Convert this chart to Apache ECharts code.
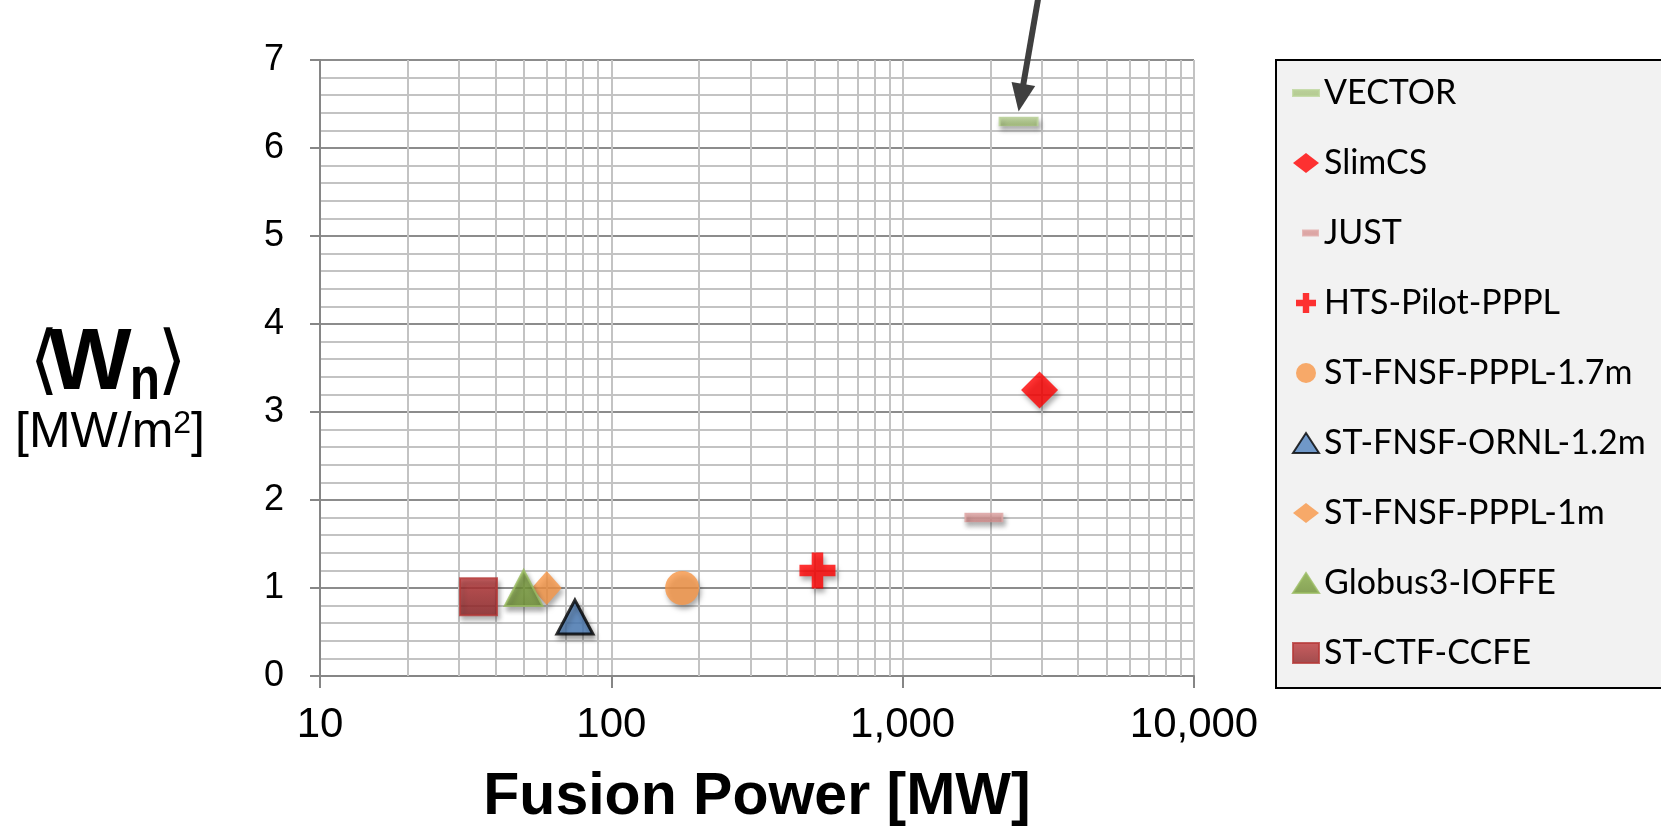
<!DOCTYPE html>
<html><head><meta charset="utf-8">
<script src="https://cdn.jsdelivr.net/npm/echarts@6/dist/echarts.min.js"></script>
<style>html,body{margin:0;padding:0;background:#fff}#c{width:1661px;height:832px}</style>
</head><body><div id="c"></div>
<script>
// ---- data ----
const seriesNames = ['VECTOR','SlimCS','JUST','HTS-Pilot-PPPL','ST-FNSF-PPPL-1.7m','ST-FNSF-ORNL-1.2m','ST-FNSF-PPPL-1m','Globus3-IOFFE','ST-CTF-CCFE'];
const fusionPower = [2500, 2950, 1900, 510, 175, 75, 60, 50, 35];
const wallLoad    = [6.3, 3.25, 1.8, 1.2, 1.0, 0.67, 1.0, 1.0, 0.9];
const xTickValues = [10, 100, 1000, 10000];
const xTickLabels = ['10', '100', '1,000', '10,000'];
const xMinorGrid  = [20,30,40,50,60,70,80,90,200,300,400,500,600,700,800,900,2000,3000,4000,5000,6000,7000,8000,9000];
const yTickLabels = ['0','1','2','3','4','5','6','7'];

// ---- styles ----
const crossPath = 'path://M34 0H66V34H100V66H66V100H34V66H0V34H34Z';
const shadow = {shadowBlur: 5, shadowOffsetX: 2, shadowOffsetY: 4, shadowColor: 'rgba(0,0,0,0.4)'};
const grad = (a, b) => new echarts.graphic.LinearGradient(0, 0, 0, 1, [{offset: 0, color: a}, {offset: 1, color: b}]);
const styles = [
  {symbol: 'rect', size: [38, 9], item: {color: grad('#b4cd8f', '#9dbb6e'), borderColor: '#bcd49a', borderWidth: 1}},
  {symbol: 'diamond', size: [37, 37], item: {color: '#ff0000'}},
  {symbol: 'rect', size: [37, 9], item: {color: grad('#dea2a1', '#cf8584'), borderColor: '#e0a9a8', borderWidth: 1}},
  {symbol: crossPath, size: [36, 36], item: {color: '#ff0000'}},
  {symbol: 'circle', size: [34, 34], item: {color: '#f79646'}},
  {symbol: 'triangle', size: [36, 34], item: {color: '#4f81bd', borderColor: '#000', borderWidth: 3}},
  {symbol: 'diamond', size: [30, 34], item: {color: '#f79646'}},
  {symbol: 'triangle', size: [38, 36], item: {color: grad('#85aa44', '#6c8f30'), borderColor: '#9abc62', borderWidth: 2}},
  {symbol: 'rect', size: [37, 37], item: {color: grad('#c0393b', '#8c2224'), borderColor: '#b53a38', borderWidth: 2}}
];
const legendIcons = [
  'path://M0 0M26 20M0 7L26 7L26 13L0 13Z',
  'diamond',
  'path://M0 0M26 20M10 7.5L25 7.5L25 12.5L10 12.5Z',
  crossPath,
  'circle',
  'triangle',
  'diamond',
  'triangle',
  'rect'
];

const chart = echarts.init(document.getElementById('c'), null, {renderer: 'canvas'});

const series = [{
  type: 'scatter', name: '__grid', data: [], z: 1, silent: true,
  markLine: {
    z: 1, silent: true, animation: false, symbol: ['none', 'none'],
    label: {show: false},
    lineStyle: {color: '#c3c3c3', width: 2, type: 'solid'},
    emphasis: {disabled: true},
    data: xMinorGrid.map(v => ({xAxis: v}))
  }
}];
seriesNames.forEach((n, i) => {
  series.push({
    type: 'scatter', name: n, z: 3 + i,
    symbol: styles[i].symbol, symbolSize: styles[i].size,
    itemStyle: Object.assign({}, styles[i].item, shadow),
    emphasis: {disabled: true},
    data: [[fusionPower[i], wallLoad[i]]]
  });
});

const option = {
  animation: false,
  backgroundColor: '#ffffff',
  grid: {left: 320, right: 467, top: 60, bottom: 149, containLabel: false},
  xAxis: {
    type: 'log', logBase: 10, min: 10, max: 10000,
    axisLine: {onZero: false, lineStyle: {color: '#868686', width: 2}},
    axisTick: {show: true, length: 12, lineStyle: {color: '#868686', width: 2}},
    axisLabel: {
      fontSize: 42, fontFamily: "'Liberation Sans Narrow', 'Liberation Sans', Arial", color: '#000', margin: 28,
      formatter: v => { const k = xTickValues.indexOf(Math.round(v)); return k >= 0 ? xTickLabels[k] : ''; }
    },
    splitLine: {show: true, lineStyle: {color: '#c3c3c3', width: 2}},
    name: 'Fusion Power [MW]', nameLocation: 'middle', nameGap: 92,
    nameTextStyle: {fontSize: 59, fontWeight: 'bold', fontFamily: "'Liberation Sans', Arial", color: '#000'}
  },
  yAxis: {
    type: 'value', min: 0, max: 7, interval: 1,
    axisLine: {show: true, lineStyle: {color: '#868686', width: 2}},
    axisTick: {show: true, length: 10, lineStyle: {color: '#868686', width: 2}},
    axisLabel: {fontSize: 36, fontFamily: "'Liberation Sans', Arial", color: '#000', margin: 36,
      formatter: v => yTickLabels[Math.round(v)]},
    splitLine: {show: true, lineStyle: {color: '#8c8c8c', width: 2}},
    minorTick: {show: false, splitNumber: 5},
    minorSplitLine: {show: true, lineStyle: {color: '#c3c3c3', width: 2}}
  },
  legend: {
    orient: 'vertical', left: 1292, top: 73, itemGap: 30, itemWidth: 26, itemHeight: 20, padding: 0,
    selectedMode: false,
    textStyle: {fontSize: 34, fontFamily: "Lato, 'Open Sans', sans-serif", color: '#000', lineHeight: 40},
    data: seriesNames.map((n, i) => ({name: n, icon: legendIcons[i]}))
  },
  series: series
};
chart.setOption(option);

// ---- annotations (y-axis title, legend frame, arrow) ----
const p = chart.convertToPixel({xAxisIndex: 0, yAxisIndex: 0}, [fusionPower[0], wallLoad[0]]);
const tip = [p[0], p[1] - 10];
const start = [p[0] + 20, -4];
const dx = tip[0] - start[0], dy = tip[1] - start[1];
const L = Math.sqrt(dx * dx + dy * dy), ux = dx / L, uy = dy / L;
const headLen = 28, headHalf = 12;
const base = [tip[0] - ux * headLen, tip[1] - uy * headLen];
const nx = -uy, ny = ux;

chart.setOption({
  graphic: [
    {type: 'rect', z: 0, shape: {x: 1276, y: 60, width: 400, height: 628},
     style: {fill: '#f2f2f2', stroke: '#000', lineWidth: 2}},
    {type: 'text', x: 44, y: 365, style: {text: '⟨', fontSize: 76, fontFamily: 'DejaVu Sans', fill: '#000', align: 'center', verticalAlign: 'middle'}},
    {type: 'text', x: 90, y: 365, style: {text: 'W', fontSize: 88, fontWeight: 'bold', fontFamily: 'Liberation Sans', fill: '#000', align: 'center', verticalAlign: 'middle'}},
    {type: 'text', x: 145, y: 382, scaleX: 0.8, style: {text: 'n', fontSize: 62, fontWeight: 'bold', fontFamily: 'Liberation Sans', fill: '#000', align: 'center', verticalAlign: 'middle'}},
    {type: 'text', x: 172, y: 365, style: {text: '⟩', fontSize: 76, fontFamily: 'DejaVu Sans', fill: '#000', align: 'center', verticalAlign: 'middle'}},
    {type: 'text', x: 110, y: 433, style: {
      text: '[MW/m{s|2}]', fontSize: 50, fontFamily: 'Liberation Sans', fill: '#000', align: 'center', verticalAlign: 'middle',
      rich: {s: {fontSize: 32, fontFamily: 'Liberation Sans', fill: '#000', verticalAlign: 'top', lineHeight: 50}}}},
    {type: 'line', z: 10, shape: {x1: start[0], y1: start[1], x2: base[0] + ux * 2, y2: base[1] + uy * 2},
     style: {stroke: '#3f3f3f', lineWidth: 6}},
    {type: 'polygon', z: 10, shape: {points: [tip, [base[0] + nx * headHalf, base[1] + ny * headHalf], [base[0] - nx * headHalf, base[1] - ny * headHalf]]},
     style: {fill: '#3f3f3f'}}
  ]
});
</script>
</body></html>
